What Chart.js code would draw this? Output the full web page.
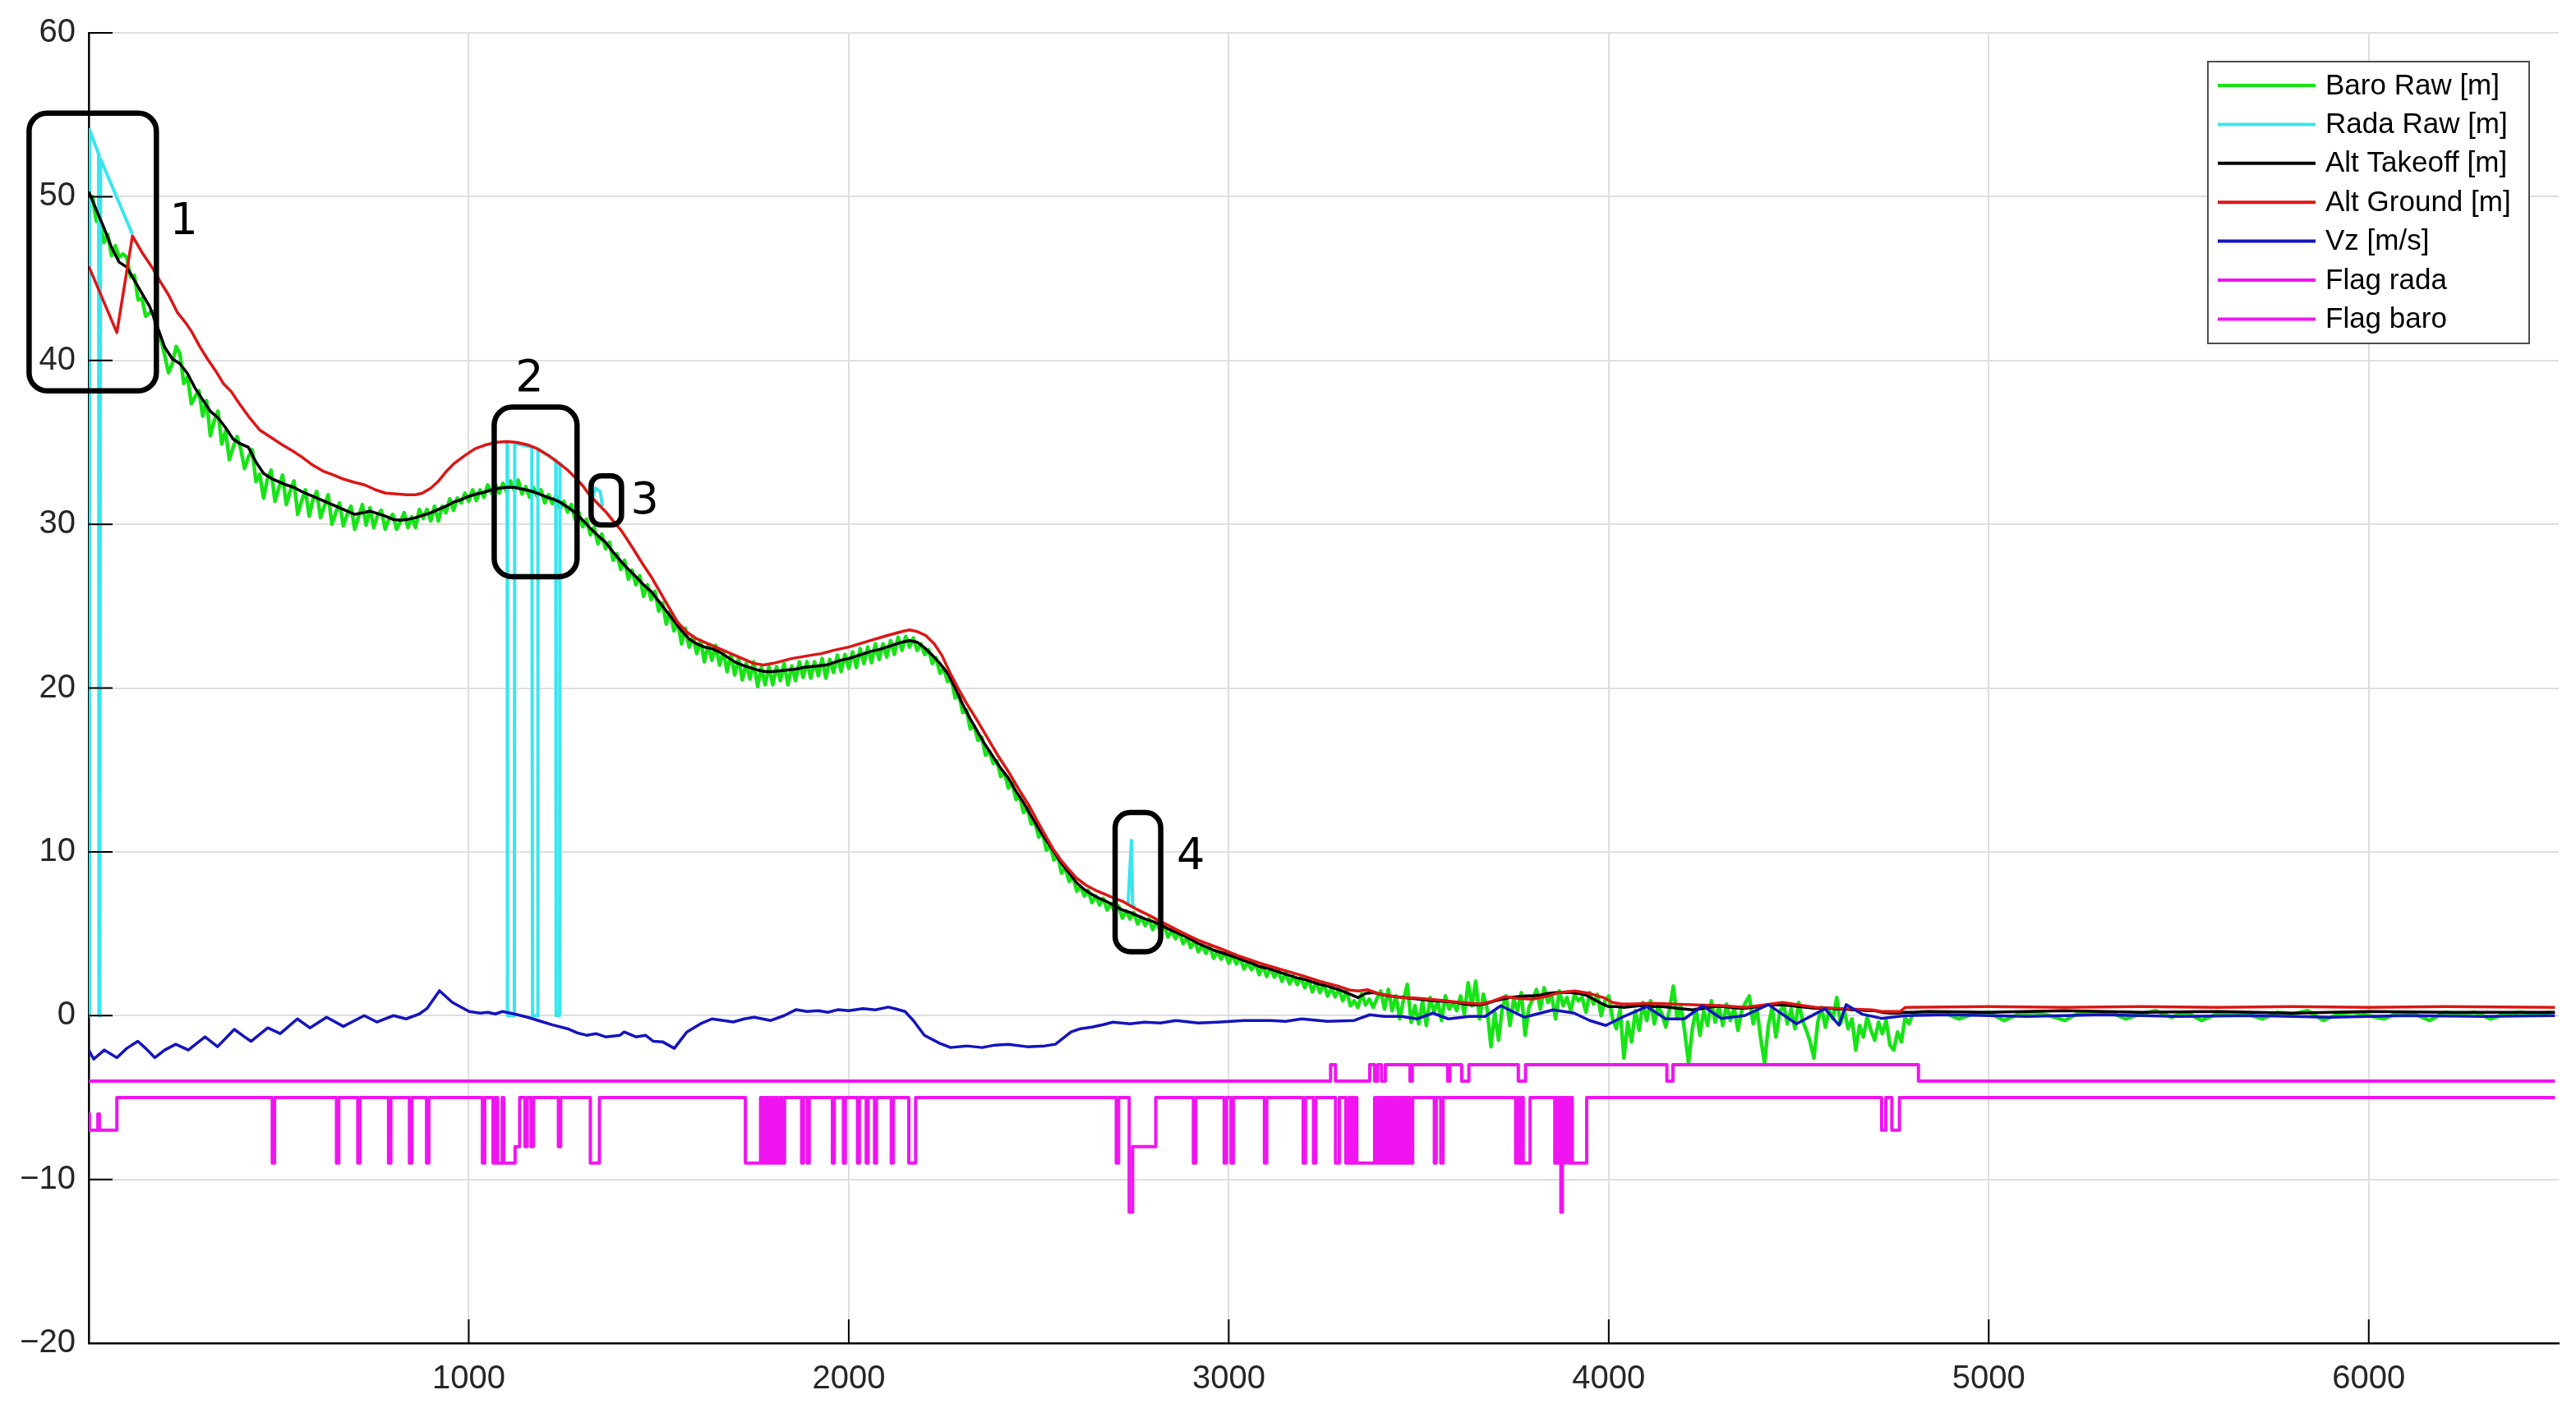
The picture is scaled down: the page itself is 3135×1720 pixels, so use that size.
<!DOCTYPE html>
<html>
<head>
<meta charset="utf-8">
<script src="https://cdn.jsdelivr.net/npm/chart.js@4.4.1/dist/chart.umd.min.js"></script>
<style>
  html, body { margin: 0; padding: 0; background: #fff; }
  canvas { display: block; }
</style>
</head>
<body>
<canvas id="chart" width="3135" height="1720"></canvas>
<script>
// ==================== DATA ====================
const xTicks = [1000, 2000, 3000, 4000, 5000, 6000];
const yTicks = [-20, -10, 0, 10, 20, 30, 40, 50, 60];

// Baro Raw: one value every 10 samples up to 4800, then every 40
const baroStart = 0, baroStep = 10;
const baroRaw = [
  49.9, 50.0, 48.5, 48.4, 47.2, 47.7, 46.4, 47.0, 46.3, 46.5,
  46.3, 45.1, 45.2, 43.7, 43.8, 42.7, 42.9, 43.0, 41.5, 41.25,
  40.3, 39.25, 39.8, 40.85, 40.4, 38.6, 39.0, 37.35, 37.8, 38.15,
  36.6, 37.55, 35.4, 36.3, 36.9, 34.9, 35.7, 33.95, 34.7, 35.35,
  34.6, 33.4, 34.1, 34.55, 32.6, 33.05, 31.6, 32.75, 33.3, 31.4,
  32.2, 33.0, 31.2, 32.0, 32.65, 30.6, 31.4, 32.1, 30.5, 31.5,
  32.0, 30.4, 31.1, 31.8, 30.0, 30.7, 31.3, 29.9, 30.6, 31.1,
  29.7, 30.45, 31.2, 29.95, 31.0, 29.8, 30.55, 30.85, 29.7, 30.3,
  30.6, 29.7, 30.15, 30.7, 29.8, 30.45, 29.8, 30.9, 30.35, 30.9,
  30.2, 31.1, 30.2, 31.1, 30.7, 31.55, 30.85, 31.6, 31.3, 31.9,
  31.4, 32.1, 31.45, 32.1, 31.65, 32.4, 31.9, 32.45, 31.9, 32.5,
  31.95, 32.65, 32.05, 32.7, 31.85, 32.3, 31.65, 32.25, 31.7, 32.1,
  31.3, 31.8, 31.25, 31.75, 30.95, 31.4, 30.75, 31.2, 30.3, 30.7,
  29.85, 30.3, 29.35, 29.8, 28.8, 29.4, 28.5, 28.9, 27.8, 28.2,
  27.25, 27.8, 26.65, 27.2, 26.3, 26.85, 25.6, 26.3, 25.4, 25.9,
  24.7, 25.2, 23.9, 24.7, 23.5, 24.0, 22.7, 23.65, 22.5, 23.15,
  22.1, 22.9, 21.6, 22.65, 21.7, 22.6, 21.4, 22.25, 21.0, 22.05,
  20.8, 21.8, 20.5, 21.5, 20.55, 21.6, 20.1, 21.25, 20.2, 21.3,
  20.2, 21.3, 20.45, 21.5, 20.2, 21.35, 20.45, 21.6, 20.65, 21.6,
  20.6, 21.6, 20.75, 21.8, 20.6, 21.75, 20.95, 22.0, 21.0, 22.05,
  21.2, 22.2, 21.25, 22.4, 21.5, 22.5, 21.55, 22.7, 21.75, 22.7,
  21.9, 22.9, 22.05, 23.1, 22.3, 23.15, 22.5, 23.05, 22.3, 22.7,
  22.05, 22.35, 21.5, 21.85, 20.9, 21.2, 20.4, 20.55, 19.4, 19.6,
  18.5, 18.65, 17.5, 17.7, 16.8, 17.0, 15.9, 16.15, 15.4, 15.55,
  14.6, 14.8, 13.9, 14.2, 13.2, 13.35, 12.4, 12.7, 11.7, 11.8,
  10.9, 11.15, 10.1, 10.35, 9.5, 9.75, 8.7, 9.0, 8.2, 8.5,
  7.6, 7.9, 7.3, 7.65, 6.9, 7.3, 6.75, 7.15, 6.45, 6.85,
  6.3, 6.7, 5.95, 6.4, 5.9, 6.3, 5.6, 6.0, 5.5, 5.9,
  5.25, 5.75, 5.15, 5.5, 4.8, 5.2, 4.7, 5.1, 4.4, 4.75,
  4.15, 4.6, 3.9, 4.3, 3.8, 4.3, 3.5, 3.9, 3.45, 3.85,
  3.2, 3.7, 3.15, 3.55, 2.85, 3.25, 2.8, 3.2, 2.5, 3.05,
  2.4, 2.9, 2.35, 2.75, 2.1, 2.6, 1.95, 2.4, 1.9, 2.35,
  1.7, 2.2, 1.45, 2.05, 1.4, 1.95, 1.2, 1.7, 1.15, 1.65,
  0.9, 1.5, 0.6, 0.9, 0.5, 1.35, 0.65, 1.0, 0.5, 1.05,
  1.5, 0.4, 1.6, 0.3, 1.2, -0.2, 1.0, 1.9, -0.4, 0.6,
  -0.5, 0.9, -0.6, 1.1, 0.2, 0.9, -0.3, 1.2, 0.4, 0.8,
  0.3, 1.2, 0.1, 2.0, 0.6, 2.1, -0.2, 1.3, 0.4, -1.9,
  0.2, -1.5, 0.5, 1.2, -0.6, 1.0, 0.3, 1.4, -1.2, 0.5,
  1.0, 1.6, 0.4, 1.7, 0.8, 1.2, -0.2, 1.5, 0.6, 1.1,
  0.3, 1.3, 0.9, 1.1, 0.2, 1.4, 0.7, 1.3, 0.0, 0.9,
  1.2, -0.2, -0.8, 0.4, -2.6, -0.4, -1.6, 0.3, -0.9, 0.8,
  -0.3, 0.9, -0.5, 0.6, 0.1, -0.7, 0.4, 1.8, -0.2, 0.6,
  -1.0, -2.9, -0.8, 0.4, -1.2, 0.3, -0.6, 0.9, -0.4, 0.6,
  -0.6, 0.7, -0.3, 0.5, -0.9, 0.3, 0.8, 1.2, -0.5, 0.4,
  -1.4, -2.9, -0.6, 0.5, -1.3, 0.2, 0.7, -0.5, 0.4, -0.8,
  0.8, -0.3, -0.9, -1.6, -2.6, -0.4, 0.5, -0.7, 0.3, -0.2,
  1.1, -0.5, 0.3, -0.8, -0.2, -2.1, -0.6, -1.3, -0.1, -0.9,
  -1.5, -0.4, -1.1, -0.3, -1.8, -2.1, -1.0, -1.6, -0.1, -0.5,
  0.1
];
const baroTailStart = 4840, baroTailStep = 40;
const baroRawTail = [
  0.1, 0.2, -0.2, 0.1, 0.2, -0.3, 0.1, 0.2, 0.0, -0.3,
  0.2, 0.1, 0.2, -0.2, 0.1, 0.3, -0.1, 0.2, -0.3, 0.1,
  0.2, 0.1, -0.2, 0.2, 0.1, 0.3, -0.3, 0.1, 0.2, 0.0,
  -0.2, 0.2, 0.1, -0.3, 0.2, 0.1, 0.2, -0.2, 0.1, 0.2,
  0.1, 0.2
];

// Alt Takeoff: one value every 20 samples up to 4800
const takeoffStart = 0, takeoffStep = 20;
const altTakeoff = [
  50.3, 49.2, 48.1, 46.9, 46.0, 45.7, 44.9, 44.1, 43.3, 42.1,
  40.8, 40.1, 39.8, 39.2, 38.3, 37.6, 36.9, 36.5, 35.9, 35.2,
  34.9, 34.7, 33.8, 33.1, 32.8, 32.6, 32.4, 32.25, 32.0, 31.8,
  31.6, 31.4, 31.2, 31.0, 30.8, 30.6, 30.7, 30.8, 30.65, 30.5,
  30.3, 30.25, 30.3, 30.4, 30.55, 30.7, 30.9, 31.1, 31.35, 31.5,
  31.7, 31.85, 31.95, 32.1, 32.2, 32.25, 32.25, 32.15, 32.05, 31.9,
  31.7, 31.55, 31.35, 31.05, 30.7, 30.25, 29.75, 29.3, 28.9, 28.3,
  27.75, 27.25, 26.8, 26.3, 25.9, 25.3, 24.7, 24.1, 23.5, 23.0,
  22.7, 22.5, 22.4, 22.2, 21.9, 21.6, 21.4, 21.25, 21.1, 21.0,
  21.0, 21.05, 21.1, 21.15, 21.25, 21.3, 21.35, 21.4, 21.55, 21.7,
  21.8, 21.95, 22.1, 22.25, 22.35, 22.5, 22.65, 22.8, 22.9, 22.8,
  22.45, 22.0, 21.5, 20.9, 20.0, 19.0, 18.1, 17.3, 16.5, 15.8,
  15.1, 14.5, 13.7, 13.0, 12.2, 11.4, 10.7, 10.0, 9.3, 8.7,
  8.1, 7.7, 7.4, 7.15, 6.95, 6.7, 6.45, 6.3, 6.1, 5.9,
  5.75, 5.55, 5.3, 5.1, 4.9, 4.65, 4.4, 4.2, 4.0, 3.85,
  3.7, 3.55, 3.35, 3.2, 3.0, 2.9, 2.75, 2.6, 2.45, 2.3,
  2.2, 2.05, 1.9, 1.8, 1.65, 1.5, 1.3, 1.1, 1.35, 1.4,
  1.3, 1.2, 1.15, 1.1, 1.05, 1.0, 0.95, 0.9, 0.88, 0.85,
  0.8, 0.7, 0.65, 0.65, 0.75, 0.9, 1.0, 1.1, 1.15, 1.2,
  1.2, 1.25, 1.35, 1.4, 1.4, 1.4, 1.35, 1.25, 1.0, 0.75,
  0.55, 0.55, 0.5, 0.55, 0.6, 0.6, 0.55, 0.55, 0.5, 0.45,
  0.4, 0.35, 0.4, 0.5, 0.55, 0.55, 0.5, 0.45, 0.45, 0.5,
  0.6, 0.65, 0.65, 0.65, 0.6, 0.55, 0.5, 0.45, 0.45, 0.45,
  0.4, 0.4, 0.35, 0.35, 0.3, 0.3, 0.2, 0.15, 0.15, 0.2,
  0.2
];
const altTakeoffTail = [[4840, 0.25], [5000, 0.2], [5200, 0.3], [5400, 0.2], [5600, 0.25],
  [5800, 0.15], [6000, 0.25], [6200, 0.2], [6490, 0.2]];

const altGround = [
  [0, 45.75], [74, 41.7], [115, 47.6], [140, 46.6], [169, 45.6], [190, 44.75], [210, 44.0], [234, 42.9],
  [255, 42.3], [271, 41.75], [291, 40.9], [312, 40.1], [333, 39.4], [354, 38.6], [375, 38.1], [395, 37.4],
  [420, 36.6], [450, 35.75], [480, 35.3], [506, 34.9], [535, 34.5], [561, 34.1], [590, 33.6], [616, 33.25],
  [645, 33.0], [671, 32.75], [700, 32.55], [726, 32.4], [755, 32.1], [781, 31.9], [810, 31.85], [837, 31.8],
  [860, 31.8], [878, 31.9], [900, 32.2], [919, 32.6], [940, 33.2], [961, 33.7], [990, 34.2], [1016, 34.6],
  [1045, 34.85], [1071, 35.0], [1100, 35.05], [1126, 35.0], [1155, 34.85], [1181, 34.6], [1210, 34.2],
  [1236, 33.75], [1258, 33.35], [1278, 32.9], [1300, 32.35], [1319, 31.75], [1340, 31.25], [1361, 30.75],
  [1380, 30.2], [1402, 29.6], [1430, 28.6], [1457, 27.6], [1480, 26.8], [1500, 26.0], [1525, 25.0],
  [1550, 24.0], [1575, 23.4], [1600, 23.0], [1650, 22.5], [1700, 22.0], [1750, 21.5], [1775, 21.4],
  [1800, 21.5], [1850, 21.8], [1900, 22.0], [1928, 22.1], [1960, 22.3], [2000, 22.5], [2050, 22.85],
  [2100, 23.2], [2140, 23.45], [2160, 23.55], [2180, 23.45], [2203, 23.2], [2225, 22.7], [2245, 22.0],
  [2265, 21.0], [2285, 20.1], [2309, 19.1], [2336, 18.1], [2364, 17.0], [2392, 15.9], [2420, 14.9],
  [2448, 13.8], [2475, 12.8], [2496, 11.9], [2516, 11.05], [2537, 10.2], [2558, 9.5], [2580, 8.9],
  [2599, 8.4], [2625, 7.95], [2654, 7.6], [2690, 7.25], [2723, 6.95], [2757, 6.5], [2792, 6.1],
  [2833, 5.6], [2875, 5.1], [2920, 4.6], [2971, 4.15], [3025, 3.65], [3082, 3.2], [3140, 2.8],
  [3192, 2.45], [3241, 2.08], [3288, 1.8], [3320, 1.55], [3340, 1.5], [3365, 1.58], [3400, 1.3],
  [3454, 1.1], [3489, 1.08], [3550, 0.95], [3610, 0.8], [3661, 0.7], [3690, 0.85], [3725, 1.15],
  [3760, 1.05], [3799, 1.0], [3840, 1.2], [3868, 1.4], [3911, 1.5], [3950, 1.35], [3986, 1.1],
  [4010, 0.8], [4035, 0.7], [4070, 0.72], [4110, 0.75], [4170, 0.7], [4234, 0.65], [4300, 0.6],
  [4358, 0.5], [4410, 0.65], [4457, 0.8], [4500, 0.65], [4544, 0.5], [4620, 0.42], [4693, 0.35],
  [4718, 0.25], [4767, 0.25], [4780, 0.5], [5000, 0.55], [5200, 0.5], [5400, 0.55], [5600, 0.5],
  [5800, 0.55], [6000, 0.5], [6200, 0.55], [6490, 0.5]
];

// radar raw: only what is not covered by Alt Ground (null = gap)
const radaRaw = [
  [0, 0], [2, 54.1], [26, 52.6], [27, 0], [29, 0], [31, 52.3], [115, 47.7], [120, null],
  [1095, 35.0], [1101, 35.0], [1102, 0], [1120, 0], [1121, 34.95], [1166, 34.7], [1168, 0], [1181, 0],
  [1182, 34.6], [1229, 33.9], [1230, 0], [1239, 0], [1240, 33.7], [1246, 33.6], [1250, null],
  [1326, 31.6], [1333, 32.2], [1346, 32.0], [1352, 31.1], [1356, null],
  [2735, 6.8], [2744, 10.7], [2747, 6.7], [2755, 6.65]
];

const vz = [
  [0, -2.1], [13, -2.66], [41, -2.1], [74, -2.57], [100, -2.0], [129, -1.57], [150, -2.0], [174, -2.57],
  [200, -2.1], [229, -1.75], [262, -2.1], [306, -1.3], [339, -1.9], [383, -0.84], [410, -1.3], [427, -1.57],
  [471, -0.75], [504, -1.1], [549, -0.2], [582, -0.75], [626, -0.1], [670, -0.66], [700, -0.3], [725, 0.0],
  [758, -0.39], [802, 0.0], [835, -0.2], [870, 0.1], [890, 0.43], [923, 1.52], [957, 0.8], [1001, 0.25],
  [1030, 0.15], [1050, 0.2], [1070, 0.1], [1089, 0.25], [1120, 0.1], [1155, -0.1], [1190, -0.35],
  [1221, -0.57], [1260, -0.8], [1285, -1.05], [1310, -1.2], [1335, -1.1], [1360, -1.3], [1398, -1.2],
  [1409, -1.0], [1440, -1.3], [1465, -1.2], [1486, -1.57], [1510, -1.6], [1541, -2.0], [1574, -1.0],
  [1610, -0.5], [1640, -0.2], [1670, -0.3], [1696, -0.39], [1725, -0.2], [1751, -0.1], [1795, -0.3],
  [1830, 0.0], [1861, 0.36], [1890, 0.25], [1920, 0.3], [1945, 0.2], [1971, 0.36], [2000, 0.3],
  [2037, 0.43], [2070, 0.35], [2104, 0.52], [2125, 0.4], [2148, 0.25], [2170, -0.3], [2199, -1.2],
  [2240, -1.7], [2268, -1.95], [2310, -1.85], [2351, -1.95], [2385, -1.8], [2420, -1.75], [2470, -1.9],
  [2516, -1.85], [2544, -1.75], [2585, -1.0], [2610, -0.8], [2640, -0.7], [2670, -0.55], [2695, -0.4],
  [2740, -0.5], [2778, -0.4], [2820, -0.45], [2861, -0.3], [2920, -0.45], [2971, -0.4], [3040, -0.3],
  [3109, -0.3], [3150, -0.35], [3192, -0.2], [3260, -0.35], [3330, -0.3], [3371, 0.05], [3410, -0.05],
  [3454, -0.05], [3495, -0.2], [3537, 0.15], [3578, -0.2], [3633, -0.05], [3675, -0.05], [3716, 0.6],
  [3778, -0.1], [3854, 0.35], [3909, 0.15], [3950, -0.3], [3992, -0.6], [4040, -0.05], [4100, 0.55],
  [4150, -0.2], [4199, -0.2], [4247, 0.6], [4296, -0.17], [4358, 0.0], [4420, 0.67], [4494, -0.5],
  [4569, 0.42], [4606, -0.58], [4625, 0.67], [4668, 0.08], [4718, -0.17], [4780, 0.0],
  [4900, 0.05], [5100, -0.05], [5300, 0.05], [5500, -0.05], [5700, 0.0], [5900, -0.1], [6100, 0.0],
  [6300, -0.05], [6490, 0.0]
];

// flags: [sample where the value starts, value]
const flagRada = [
  [0, -4], [3268, -3], [3281, -4], [3371, -3], [3384, -4], [3392, -3], [3402, -4], [3412, -3],
  [3477, -4], [3483, -3], [3576, -4], [3582, -3], [3613, -4], [3632, -3], [3762, -4], [3781, -3],
  [4153, -4], [4169, -3], [4815, -4], [6490, -4]
];
const flagBaro = [
  [0, -6], [2, -7], [24, -6], [28, -7], [74, -5],
  [483, -9], [489, -5], [652, -9], [658, -5], [708, -9], [714, -5], [789, -9], [795, -5],
  [844, -9], [850, -5], [889, -9], [895, -5], [1036, -9], [1042, -5],
  [1064, -9], [1070, -5], [1076, -9], [1088, -5], [1092, -9], [1122, -8], [1134, -5],
  [1148, -8], [1154, -5], [1164, -8], [1170, -5], [1236, -8], [1242, -5], [1320, -9], [1344, -5],
  [1728, -9], [1768, -5], [1772, -9], [1777, -5], [1781, -9], [1785, -5], [1789, -9], [1794, -5],
  [1798, -9], [1802, -5], [1806, -9], [1810, -5], [1815, -9], [1820, -5], [1826, -9], [1831, -5],
  [1876, -9], [1881, -5], [1891, -9], [1896, -5], [1957, -9], [1962, -5], [1986, -9], [1991, -5],
  [2023, -9], [2028, -5], [2046, -9], [2051, -5], [2068, -9], [2073, -5], [2112, -9], [2117, -5],
  [2158, -9], [2176, -5],
  [2704, -9], [2710, -5], [2738, -12], [2747, -8], [2808, -5],
  [2907, -9], [2913, -5], [2988, -9], [2994, -5], [3006, -9], [3012, -5], [3094, -9], [3100, -5],
  [3196, -9], [3202, -5], [3223, -9], [3229, -5],
  [3281, -9], [3291, -5], [3308, -9], [3315, -5], [3321, -9], [3325, -5], [3329, -9], [3333, -5],
  [3337, -9], [3384, -5], [3389, -9], [3393, -5], [3397, -9], [3401, -5], [3405, -9], [3409, -5],
  [3413, -9], [3417, -5], [3421, -9], [3425, -5], [3429, -9], [3433, -5], [3437, -9], [3441, -5],
  [3445, -9], [3449, -5], [3453, -9], [3457, -5], [3461, -9], [3465, -5], [3469, -9], [3473, -5],
  [3477, -9], [3484, -5], [3541, -9], [3546, -5], [3558, -9], [3564, -5],
  [3755, -9], [3760, -5], [3764, -9], [3770, -5], [3775, -9], [3793, -5],
  [3858, -9], [3862, -5], [3866, -9], [3870, -5], [3874, -12], [3878, -5], [3883, -9], [3887, -5],
  [3895, -9], [3900, -5], [3904, -9], [3942, -5],
  [4718, -7], [4729, -5], [4745, -7], [4765, -5], [6490, -5]
];

// hand-drawn marks on the figure, in data units
const noteBoxes = [
  { text: '1', x0: -157, x1: 178, y0: 38.15, y1: 55.1, tx: 250, ty: 48.4 },
  { text: '2', x0: 1067, x1: 1285, y0: 26.8, y1: 37.15, tx: 1160, ty: 38.85 },
  { text: '3', x0: 1322, x1: 1402, y0: 29.95, y1: 32.95, tx: 1463, ty: 31.35 },
  { text: '4', x0: 2701, x1: 2821, y0: 3.9, y1: 12.4, tx: 2900, ty: 9.65 }
];

// ==================== HELPERS ====================
const onGrid = (vals, start, step) => vals.map((v, i) => ({ x: start + i * step, y: v }));
const fromPairs = pairs => pairs.map(p => ({ x: p[0], y: p[1] }));
const minusLabel = v => (v < 0 ? '\u2212' + Math.abs(v) : String(v));

// ==================== PLUGINS ====================
const inwardTicks = {
  id: 'inwardTicks',
  afterDraw(chart) {
    const { ctx, chartArea: a, scales: { x, y } } = chart;
    ctx.save();
    ctx.strokeStyle = '#000';
    ctx.lineWidth = 2;
    ctx.beginPath();
    yTicks.forEach(v => {
      const py = y.getPixelForValue(v);
      ctx.moveTo(a.left, py);
      ctx.lineTo(a.left + 29, py);
    });
    xTicks.forEach(v => {
      const px = x.getPixelForValue(v);
      ctx.moveTo(px, a.bottom);
      ctx.lineTo(px, a.bottom - 29);
    });
    ctx.stroke();
    ctx.restore();
  }
};

const notes = {
  id: 'notes',
  afterDraw(chart) {
    const { ctx, scales: { x, y } } = chart;
    ctx.save();
    ctx.strokeStyle = '#000';
    ctx.lineWidth = 6.5;
    noteBoxes.forEach(b => {
      const l = x.getPixelForValue(b.x0), r = x.getPixelForValue(b.x1);
      const t = y.getPixelForValue(b.y1), btm = y.getPixelForValue(b.y0);
      const rad = Math.min(22, (r - l) / 3);
      ctx.beginPath();
      ctx.moveTo(l + rad, t);
      ctx.arcTo(r, t, r, btm, rad);
      ctx.arcTo(r, btm, l, btm, rad);
      ctx.arcTo(l, btm, l, t, rad);
      ctx.arcTo(l, t, r, t, rad);
      ctx.closePath();
      ctx.stroke();
      ctx.fillStyle = '#000';
      ctx.font = '54px "DejaVu Sans"';
      ctx.textAlign = 'center';
      ctx.textBaseline = 'middle';
      ctx.fillText(b.text, x.getPixelForValue(b.tx), y.getPixelForValue(b.ty));
    });
    ctx.restore();
  }
};

const boxLegend = {
  id: 'boxLegend',
  afterDraw(chart) {
    const { ctx, chartArea: a } = chart;
    const w = 391, h = 343;
    const left = a.right - 36 - w, top = a.top + 35;
    ctx.save();
    ctx.fillStyle = '#fff';
    ctx.fillRect(left, top, w, h);
    ctx.strokeStyle = '#4d4d4d';
    ctx.lineWidth = 2;
    ctx.strokeRect(left, top, w, h);
    ctx.font = '35px "Liberation Sans", Arial, sans-serif';
    ctx.textBaseline = 'middle';
    ctx.textAlign = 'left';
    chart.data.datasets.forEach((ds, i) => {
      const cy = top + 29 + i * 47.4;
      ctx.strokeStyle = ds.borderColor;
      ctx.lineWidth = 4;
      ctx.beginPath();
      ctx.moveTo(left + 12, cy);
      ctx.lineTo(left + 131, cy);
      ctx.stroke();
      ctx.fillStyle = '#000';
      ctx.fillText(ds.label, left + 143, cy + 1);
    });
    ctx.restore();
  }
};

// ==================== CHART ====================
const tickFont = { family: '"Liberation Sans", Arial, sans-serif', size: 40 };
const gridColor = '#dedede';

const lineDefaults = { pointRadius: 0, borderWidth: 3, tension: 0, fill: false, borderJoinStyle: 'round', spanGaps: false };

new Chart(document.getElementById('chart'), {
  type: 'line',
  data: {
    datasets: [
      { ...lineDefaults, label: 'Baro Raw [m]', borderColor: '#17e317', borderWidth: 4.5, order: 7,
        data: onGrid(baroRaw, baroStart, baroStep).concat(onGrid(baroRawTail, baroTailStart, baroTailStep)) },
      { ...lineDefaults, label: 'Rada Raw [m]', borderColor: '#38e6ee', borderWidth: 4, order: 6,
        data: fromPairs(radaRaw) },
      { ...lineDefaults, label: 'Alt Takeoff [m]', borderColor: '#000000', borderWidth: 3.5, order: 5,
        data: onGrid(altTakeoff, takeoffStart, takeoffStep).concat(fromPairs(altTakeoffTail)) },
      { ...lineDefaults, label: 'Alt Ground [m]', borderColor: '#dc1616', borderWidth: 3.5, order: 4,
        data: fromPairs(altGround) },
      { ...lineDefaults, label: 'Vz [m/s]', borderColor: '#1414be', borderWidth: 3.5, order: 3,
        data: fromPairs(vz) },
      { ...lineDefaults, label: 'Flag rada', borderColor: '#f014f0', borderWidth: 4, stepped: true, order: 2,
        data: fromPairs(flagRada) },
      { ...lineDefaults, label: 'Flag baro', borderColor: '#f014f0', borderWidth: 4, stepped: true, order: 1,
        data: fromPairs(flagBaro) }
    ]
  },
  options: {
    responsive: false,
    devicePixelRatio: 1,
    animation: false,
    layout: { padding: { top: 35, right: 21, left: 0, bottom: 0 } },
    plugins: { legend: { display: false }, tooltip: { enabled: false } },
    scales: {
      x: {
        type: 'linear', min: 0, max: 6500,
        afterBuildTicks: s => { s.ticks = xTicks.map(v => ({ value: v })); },
        afterFit: s => { s.height = 85; },
        grid: { color: gridColor, lineWidth: 2, drawTicks: false },
        border: { display: true, color: '#000', width: 2.5 },
        ticks: { font: tickFont, color: '#262626', padding: 20, maxRotation: 0, autoSkip: false,
                 callback: v => String(v) }
      },
      y: {
        type: 'linear', min: -20, max: 60,
        afterBuildTicks: s => { s.ticks = yTicks.map(v => ({ value: v })); },
        afterFit: s => { s.width = 108; },
        grid: { color: gridColor, lineWidth: 2, drawTicks: false },
        border: { display: true, color: '#000', width: 2.5 },
        ticks: { font: tickFont, color: '#262626', padding: 16, callback: v => minusLabel(v) }
      }
    }
  },
  plugins: [inwardTicks, notes, boxLegend]
});
</script>
</body>
</html>
